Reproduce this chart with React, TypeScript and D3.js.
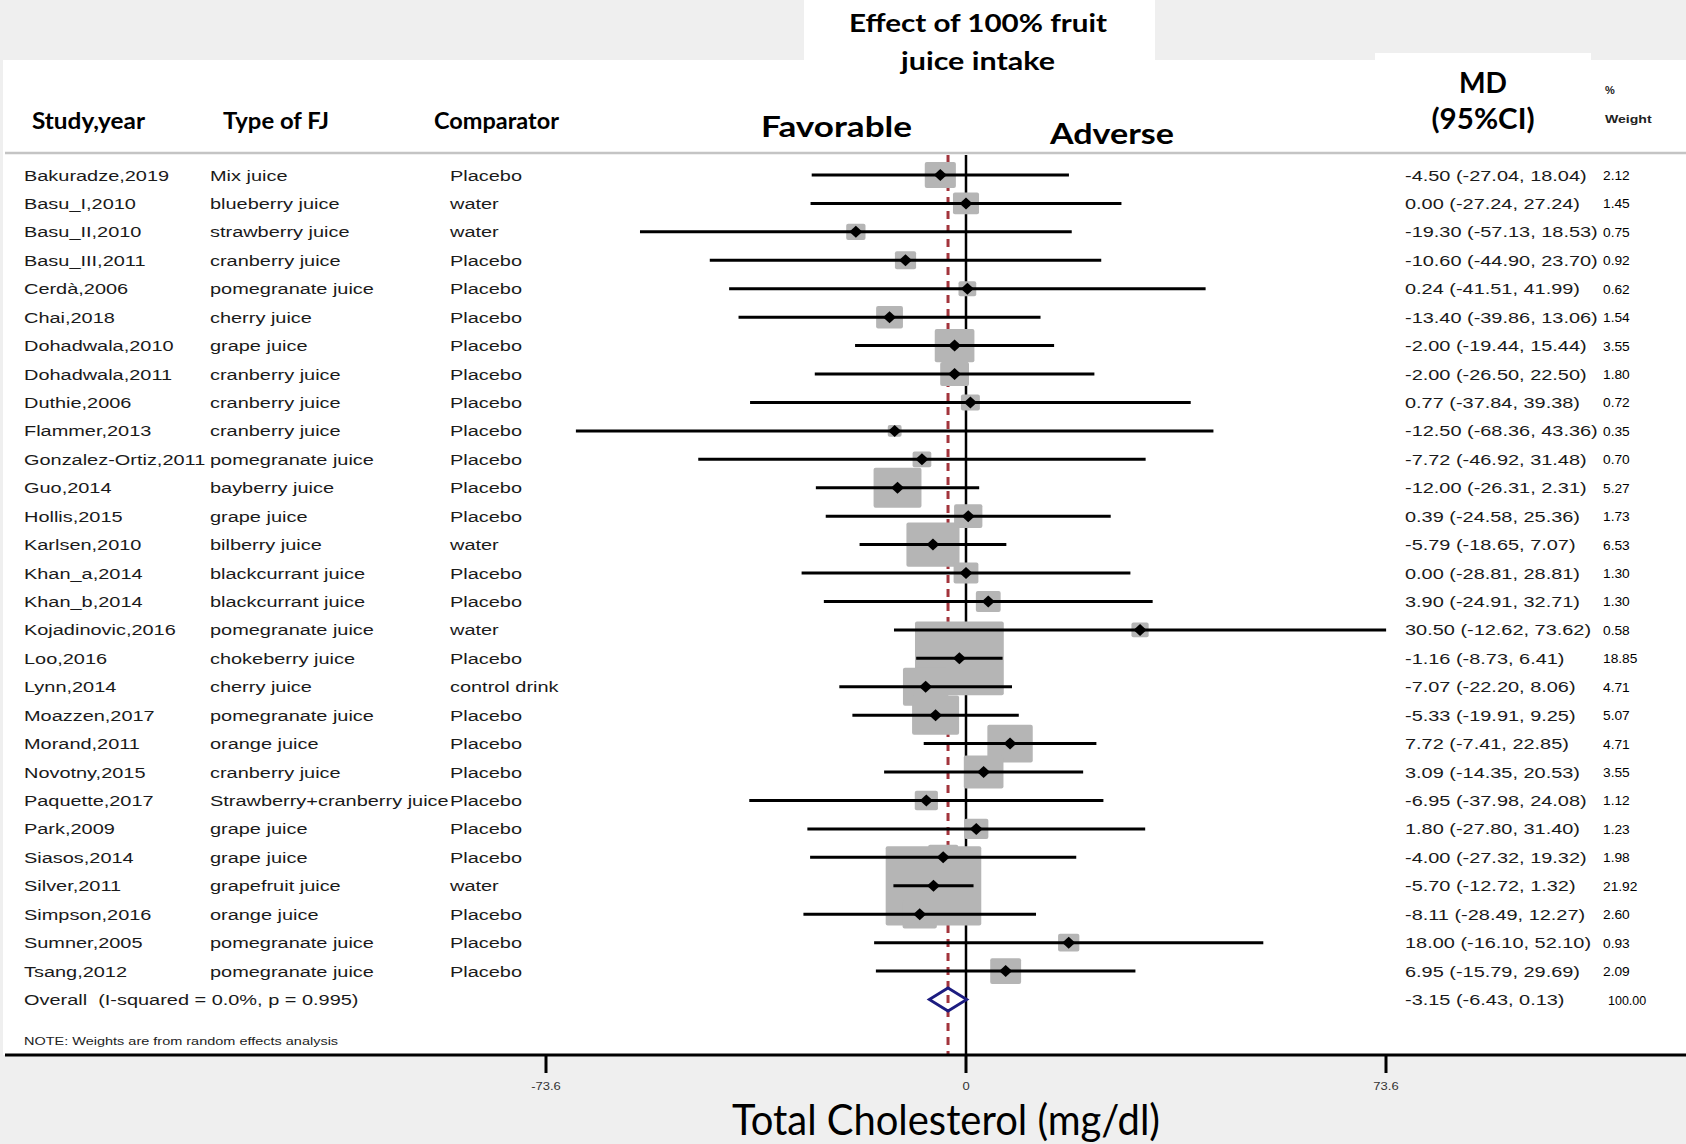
import React from "react";
import * as d3 from "d3";

const studies = [
  "Bakuradze,2019", "Basu_I,2010", "Basu_II,2010", "Basu_III,2011", "Cerdà,2006",
  "Chai,2018", "Dohadwala,2010", "Dohadwala,2011", "Duthie,2006", "Flammer,2013",
  "Gonzalez-Ortiz,2011", "Guo,2014", "Hollis,2015", "Karlsen,2010", "Khan_a,2014",
  "Khan_b,2014", "Kojadinovic,2016", "Loo,2016", "Lynn,2014", "Moazzen,2017",
  "Morand,2011", "Novotny,2015", "Paquette,2017", "Park,2009", "Siasos,2014",
  "Silver,2011", "Simpson,2016", "Sumner,2005", "Tsang,2012",
];
const juiceTypes = [
  "Mix juice", "blueberry juice", "strawberry juice", "cranberry juice", "pomegranate juice",
  "cherry juice", "grape juice", "cranberry juice", "cranberry juice", "cranberry juice",
  "pomegranate juice", "bayberry juice", "grape juice", "bilberry juice", "blackcurrant juice",
  "blackcurrant juice", "pomegranate juice", "chokeberry juice", "cherry juice", "pomegranate juice",
  "orange juice", "cranberry juice", "Strawberry+cranberry juice", "grape juice", "grape juice",
  "grapefruit juice", "orange juice", "pomegranate juice", "pomegranate juice",
];
const comparators = [
  "Placebo", "water", "water", "Placebo", "Placebo",
  "Placebo", "Placebo", "Placebo", "Placebo", "Placebo",
  "Placebo", "Placebo", "Placebo", "water", "Placebo",
  "Placebo", "water", "Placebo", "control drink", "Placebo",
  "Placebo", "Placebo", "Placebo", "Placebo", "Placebo",
  "water", "Placebo", "Placebo", "Placebo",
];
const md = [
  -4.5, 0.0, -19.3, -10.6, 0.24, -13.4, -2.0, -2.0, 0.77, -12.5,
  -7.72, -12.0, 0.39, -5.79, 0.0, 3.9, 30.5, -1.16, -7.07, -5.33,
  7.72, 3.09, -6.95, 1.8, -4.0, -5.7, -8.11, 18.0, 6.95,
];
const ciLow = [
  -27.04, -27.24, -57.13, -44.9, -41.51, -39.86, -19.44, -26.5, -37.84, -68.36,
  -46.92, -26.31, -24.58, -18.65, -28.81, -24.91, -12.62, -8.73, -22.2, -19.91,
  -7.41, -14.35, -37.98, -27.8, -27.32, -12.72, -28.49, -16.1, -15.79,
];
const ciHigh = [
  18.04, 27.24, 18.53, 23.7, 41.99, 13.06, 15.44, 22.5, 39.38, 43.36,
  31.48, 2.31, 25.36, 7.07, 28.81, 32.71, 73.62, 6.41, 8.06, 9.25,
  22.85, 20.53, 24.08, 31.4, 19.32, 1.32, 12.27, 52.1, 29.69,
];
const weights = [
  2.12, 1.45, 0.75, 0.92, 0.62, 1.54, 3.55, 1.8, 0.72, 0.35,
  0.7, 5.27, 1.73, 6.53, 1.3, 1.3, 0.58, 18.85, 4.71, 5.07,
  4.71, 3.55, 1.12, 1.23, 1.98, 21.92, 2.6, 0.93, 2.09,
];
const overall = { md: -3.15, lo: -6.43, hi: 0.13, weight: 100.0 };
const overallLabel = "Overall  (I-squared = 0.0%, p = 0.995)";
const noteLabel = "NOTE: Weights are from random effects analysis";
const tickValues = [-73.6, 0, 73.6];
const tickLabels = ["-73.6", "0", "73.6"];

const W = 1686;
const H = 1144;
const BG = "#efefef";
const ROWFONT = "'Liberation Sans', Arial, sans-serif";
const HEADFONT = "Lato, 'Open Sans', sans-serif";

const f2 = (v: number) => v.toFixed(2);

function SText(props: any) {
  const { x, y, sx = 1, size, anchor = "start", weight = "normal", fill = "#1a1a1a", family = ROWFONT, children } = props;
  return (
    <text
      transform={`translate(${x},${y}) scale(${sx},1)`}
      fontFamily={family}
      fontSize={size}
      fontWeight={weight}
      textAnchor={anchor}
      fill={fill}
      style={{ whiteSpace: "pre" }}
    >
      {children}
    </text>
  );
}

function HText(props: any) {
  const { x, y, size, len, anchor = "start", weight = "bold", children } = props;
  return (
    <text
      x={x}
      y={y}
      fontFamily={HEADFONT}
      fontSize={size}
      fontWeight={weight}
      textAnchor={anchor}
      fill="#000"
      textLength={len}
      lengthAdjust="spacingAndGlyphs"
    >
      {children}
    </text>
  );
}

export default function App() {
  const x = d3.scaleLinear().domain([-73.6, 73.6]).range([546, 1386]);
  const y = d3.scaleLinear().domain([0, 29]).range([175, 999.5]);
  const boxW = d3.scaleSqrt().domain([0, 21.92]).range([0, 93.6]);
  const boxH = d3.scaleSqrt().domain([0, 21.92]).range([0, 77.3]);

  const plotTop = 155;
  const axisY = 1055;
  const n = studies.length;
  const idx = d3.range(n);

  const ptH = 6.5;
  const ptV = 6;
  const diamondPath = (cx: number, cy: number) =>
    `M${cx - ptH},${cy}L${cx},${cy - ptV}L${cx + ptH},${cy}L${cx},${cy + ptV}Z`;

  const oy = y(n);
  const overallPath = `M${x(overall.lo)},${oy}L${x(overall.md)},${oy - 11.5}L${x(overall.hi)},${oy}L${x(overall.md)},${oy + 11.5}Z`;

  const textSX = 1.33;
  const textSize = 15;

  return (
    <div style={{ position: "absolute", left: 0, top: 0 }}>
      <svg width={W} height={H} viewBox={`0 0 ${W} ${H}`} style={{ display: "block" }}>
        <rect x={0} y={0} width={W} height={H} fill={BG} />
        {/* white panel */}
        <rect x={3} y={60} width={W - 3} height={axisY - 60} fill="#fff" />
        {/* title box */}
        <rect x={804} y={0} width={351} height={61} fill="#fff" />
        {/* MD box */}
        <rect x={1375} y={53} width={216} height={8} fill="#fff" />

        {/* header texts */}
        <HText x={978} y={32} size={24} len={258} anchor="middle">Effect of 100% fruit</HText>
        <HText x={978} y={70} size={24} len={154} anchor="middle">juice intake</HText>
        <HText x={32} y={129} size={22} len={113}>Study,year</HText>
        <HText x={223} y={129} size={22} len={106}>Type of FJ</HText>
        <HText x={434} y={129} size={22} len={125}>Comparator</HText>
        <HText x={761} y={137} size={29} len={151}>Favorable</HText>
        <HText x={1050} y={144} size={29} len={124}>Adverse</HText>
        <HText x={1483} y={93} size={29} len={48} anchor="middle">MD</HText>
        <HText x={1483} y={129} size={29} len={103} anchor="middle">(95%CI)</HText>
        <SText x={1605} y={94} size={10} sx={1.1} weight="bold" fill="#222">%</SText>
        <SText x={1605} y={123} size={11} sx={1.28} weight="bold" fill="#222">Weight</SText>

        {/* header separator */}
        <line x1={5} x2={W} y1={153} y2={153} stroke="#c4c4c4" strokeWidth={2.5} />

        {/* reference lines */}
        <line x1={x(overall.md)} x2={x(overall.md)} y1={plotTop} y2={axisY} stroke="#a3343c" strokeWidth={3} strokeDasharray="8,6" />
        <line x1={x(0)} x2={x(0)} y1={plotTop} y2={axisY} stroke="#000" strokeWidth={2.5} />

        {/* boxes */}
        {idx.map((i) => {
          const bw = boxW(weights[i]) + 2;
          const bh = boxH(weights[i]) + 2;
          return (
            <rect key={`b${i}`} x={x(md[i]) - bw / 2} y={y(i) - bh / 2} width={bw} height={bh} rx={2} fill="#b5b5b5" />
          );
        })}
        {/* CI lines */}
        {idx.map((i) => (
          <line key={`c${i}`} x1={x(ciLow[i])} x2={x(ciHigh[i])} y1={y(i)} y2={y(i)} stroke="#000" strokeWidth={3} />
        ))}
        {/* point estimates */}
        {idx.map((i) => (
          <path key={`p${i}`} d={diamondPath(x(md[i]), y(i))} fill="#000" />
        ))}
        {/* overall diamond */}
        <path d={overallPath} fill="none" stroke="#1c1c80" strokeWidth={2.8} strokeLinejoin="miter" />

        {/* row texts */}
        {idx.map((i) => (
          <g key={`t${i}`}>
            <SText x={24} y={y(i) + 5.5} size={textSize} sx={textSX}>{studies[i]}</SText>
            <SText x={210} y={y(i) + 5.5} size={textSize} sx={textSX}>{juiceTypes[i]}</SText>
            <SText x={450} y={y(i) + 5.5} size={textSize} sx={textSX}>{comparators[i]}</SText>
            <SText x={1405} y={y(i) + 5.5} size={textSize} sx={textSX}>{`${f2(md[i])} (${f2(ciLow[i])}, ${f2(ciHigh[i])})`}</SText>
            <SText x={1603} y={y(i) + 5} size={12.5} sx={1.1} fill="#000">{f2(weights[i])}</SText>
          </g>
        ))}
        <SText x={24} y={oy + 5.5} size={textSize} sx={textSX}>{overallLabel}</SText>
        <SText x={1405} y={oy + 5.5} size={textSize} sx={textSX}>{`${f2(overall.md)} (${f2(overall.lo)}, ${f2(overall.hi)})`}</SText>
        <SText x={1608} y={oy + 5} size={12.5} sx={1.0} fill="#000">{f2(overall.weight)}</SText>

        <SText x={24} y={1045} size={10} sx={1.45} fill="#222">{noteLabel}</SText>

        {/* axis */}
        <line x1={5} x2={W} y1={axisY} y2={axisY} stroke="#000" strokeWidth={3} />
        {tickValues.map((t, i) => (
          <g key={`k${i}`}>
            <line x1={x(t)} x2={x(t)} y1={axisY} y2={axisY + 18} stroke="#000" strokeWidth={3} />
            <SText x={x(t)} y={axisY + 35} size={10} sx={1.3} anchor="middle" fill="#333">{tickLabels[i]}</SText>
          </g>
        ))}
        <HText x={732} y={1135} size={43} len={428} weight="normal">Total Cholesterol (mg/dl)</HText>
      </svg>
    </div>
  );
}
